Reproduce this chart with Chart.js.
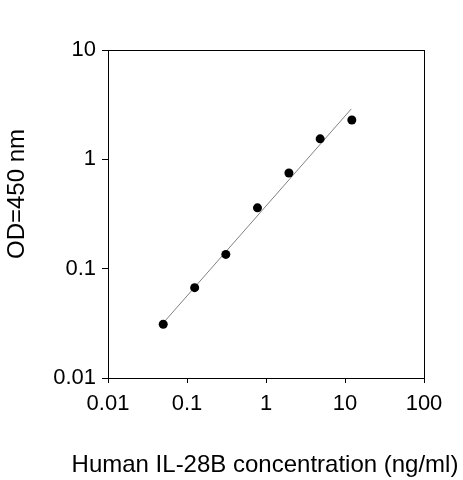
<!DOCTYPE html>
<html>
<head>
<meta charset="utf-8">
<script src="https://cdn.jsdelivr.net/npm/chart.js@4.4.1/dist/chart.umd.min.js"></script>
<style>
  html, body { margin: 0; padding: 0; background: #fff; }
  #wrap { width: 463px; height: 480px; }
</style>
</head>
<body>
<div id="wrap"><canvas id="stdCurve"></canvas></div>
<script>
// standard curve readings
const concentrations = [0.05, 0.125, 0.31, 0.78, 1.95, 4.85, 12.2];
const odValues = [0.031, 0.067, 0.135, 0.36, 0.75, 1.54, 2.29];

// fitted line end points
const fitX = [0.053, 12.0];
const fitY = [0.0334, 2.89];

const xTicks = [0.01, 0.1, 1, 10, 100];
const xTickLabels = ['0.01', '0.1', '1', '10', '100'];
const yTicks = [0.01, 0.1, 1, 10];
const yTickLabels = ['0.01', '0.1', '1', '10'];

const xTitle = 'Human IL-28B concentration (ng/ml)';
const yTitle = 'OD=450 nm';

const FONT = "'Liberation Sans', Arial, sans-serif";

// box around the plot + axis titles (the x title is wider than the plot,
// Chart.js would squeeze it, so both are drawn here)
const framePlugin = {
    id: 'frame',
    afterDraw(chart) {
        const { ctx, chartArea: a } = chart;
        ctx.save();
        ctx.strokeStyle = '#000';
        ctx.lineWidth = 1;
        ctx.strokeRect(Math.round(a.left) + 0.5, Math.round(a.top) + 0.5,
            Math.round(a.right - a.left), Math.round(a.bottom - a.top));
        ctx.fillStyle = '#000';
        ctx.font = '24px ' + FONT;
        ctx.textAlign = 'center';
        ctx.textBaseline = 'alphabetic';
        ctx.fillText(xTitle, 265, 472);
        ctx.translate(24, 194);
        ctx.rotate(-Math.PI / 2);
        ctx.fillText(yTitle, 0, 0);
        ctx.restore();
    }
};

const ctx = document.getElementById('stdCurve').getContext('2d');

const chart = new Chart(ctx, {
    type: 'scatter',
    data: {
        datasets: [{
            label: 'fit',
            data: fitX.map((x, i) => ({ x: x, y: fitY[i] })),
            showLine: true,
            borderColor: '#808080',
            borderWidth: 1,
            pointRadius: 0,
            order: 2
        }, {
            label: 'standards',
            data: concentrations.map((x, i) => ({ x: x, y: odValues[i] })),
            backgroundColor: '#000',
            borderWidth: 0,
            pointRadius: 4.5,
            order: 1
        }]
    },
    options: {
        responsive: true,
        maintainAspectRatio: false,
        animation: false,
        layout: { padding: { top: 50, right: 39, left: 0, bottom: 0 } },
        plugins: {
            legend: { display: false },
            tooltip: { enabled: false }
        },
        scales: {
            x: {
                type: 'logarithmic',
                min: 0.01,
                max: 100,
                afterBuildTicks: s => { s.ticks = xTicks.map(v => ({ value: v })); },
                afterFit: s => { s.height = 102; },
                ticks: {
                    color: '#000',
                    font: { family: FONT, size: 22 },
                    padding: 8,
                    maxRotation: 0,
                    autoSkip: false,
                    callback: (v, i) => xTickLabels[i]
                },
                grid: { display: true, drawOnChartArea: false, drawTicks: true, tickLength: 5, color: '#000' },
                border: { display: true, color: '#000', width: 1 }
            },
            y: {
                type: 'logarithmic',
                min: 0.01,
                max: 10,
                afterBuildTicks: s => { s.ticks = yTicks.map(v => ({ value: v })); },
                afterFit: s => { s.width = 108; },
                ticks: {
                    color: '#000',
                    font: { family: FONT, size: 22 },
                    padding: 6,
                    autoSkip: false,
                    callback: (v, i) => yTickLabels[i]
                },
                grid: { display: true, drawOnChartArea: false, drawTicks: true, tickLength: 6, color: '#000' },
                border: { display: true, color: '#000', width: 1 }
            }
        }
    },
    plugins: [framePlugin]
});
</script>
</body>
</html>
